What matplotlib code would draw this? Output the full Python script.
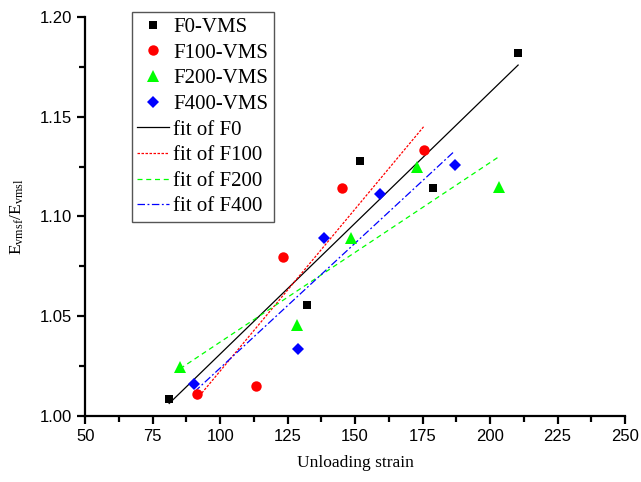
import numpy as np
import matplotlib
matplotlib.use("Agg")
import matplotlib.pyplot as plt
from matplotlib.ticker import MultipleLocator, FormatStrFormatter

plt.rcParams['mathtext.fontset'] = 'custom'
plt.rcParams['mathtext.rm'] = 'Liberation Serif'
plt.rcParams['mathtext.it'] = 'Liberation Serif:italic'

# Data
f0_x = [81.1, 132.0, 151.8, 178.7, 210.4]
f0_y = [1.0085, 1.0555, 1.128, 1.1144, 1.182]
f100_x = [91.3, 113.2, 123.2, 145.2, 175.5]
f100_y = [1.011, 1.015, 1.0795, 1.1145, 1.1335]
f200_x = [85.1, 128.3, 148.3, 173.0, 203.3]
f200_y = [1.0246, 1.0455, 1.089, 1.125, 1.115]
f400_x = [90.4, 128.9, 138.4, 159.3, 186.9]
f400_y = [1.0159, 1.0333, 1.089, 1.111, 1.126]

labels_pts = ['F0-VMS', 'F100-VMS', 'F200-VMS', 'F400-VMS']
labels_fit = ['fit of F0', 'fit of F100', 'fit of F200', 'fit of F400']

fig = plt.figure(figsize=(6.41, 4.82), dpi=100)
ax = fig.add_axes([0.133, 0.1375, 0.842, 0.827])

series = [(f0_x, f0_y), (f100_x, f100_y), (f200_x, f200_y), (f400_x, f400_y)]
colors = ['black', '#ff0000', '#00ff00', '#0000ff']
markers = ['s', 'o', '^', 'D']
msizes = [6, 7.5, 8.5, 6.5]
lstyles = ['-', (0, (2, 1.2)), (0, (4, 3)), (0, (6, 2, 1.5, 2))]

handles = []
for (x, y), c, m, ms, lab in zip(series, colors, markers, msizes, labels_pts):
    h, = ax.plot(x, y, linestyle='none', marker=m, color=c, markersize=ms,
                 markeredgewidth=0, label=lab, zorder=3)
    handles.append(h)

for (x, y), c, ls, lab in zip(series, colors, lstyles, labels_fit):
    x = np.asarray(x)
    k, b = np.polyfit(x, y, 1)
    xs = np.array([x.min(), x.max()])
    h, = ax.plot(xs, k * xs + b, color=c, linestyle=ls, linewidth=0.9, label=lab, zorder=2)
    handles.append(h)

ax.set_xlim(50, 250)
ax.set_ylim(1.0, 1.2)
ax.xaxis.set_major_locator(MultipleLocator(25))
ax.xaxis.set_minor_locator(MultipleLocator(12.5))
ax.yaxis.set_major_locator(MultipleLocator(0.05))
ax.yaxis.set_minor_locator(MultipleLocator(0.025))
ax.yaxis.set_major_formatter(FormatStrFormatter('%.2f'))

for s in ['top', 'right']:
    ax.spines[s].set_visible(False)
for s in ['left', 'bottom']:
    ax.spines[s].set_linewidth(1.6)

ax.tick_params(which='major', direction='out', length=6, width=1.6,
               labelsize=12, pad=3.5)
ax.tick_params(which='minor', direction='out', length=4, width=1.6)
for t in ax.get_xticklabels() + ax.get_yticklabels():
    t.set_fontfamily('Liberation Sans')

ax.set_xlabel('Unloading strain', fontfamily='Liberation Serif', fontsize=12.5, labelpad=8)
ax.set_ylabel(r'E$_{\mathrm{vmsf}}$/E$_{\mathrm{vmsl}}$', fontfamily='Liberation Serif',
              fontsize=12.5, labelpad=10)

leg = ax.legend(handles=handles, loc='upper left', bbox_to_anchor=(0.086, 1.012),
                prop={'family': 'Liberation Serif', 'size': 15}, frameon=True,
                fancybox=False, edgecolor='#555555', framealpha=1,
                handlelength=1.55, handletextpad=0.2, labelspacing=0.29,
                borderpad=0.25, borderaxespad=0, numpoints=1)
leg.get_frame().set_linewidth(1.0)

fig.savefig('out.png', dpi=100)
